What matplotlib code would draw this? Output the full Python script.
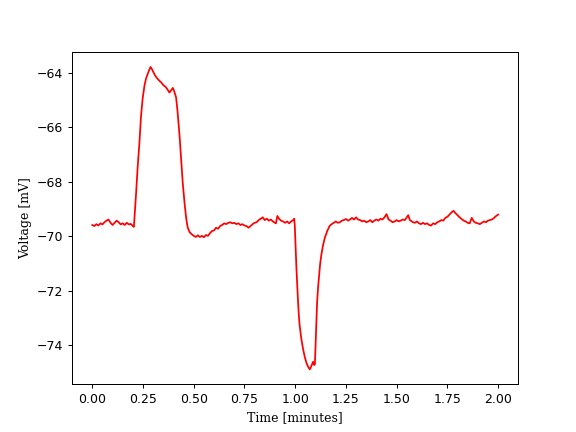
import numpy as np
import matplotlib.pyplot as plt

# membrane voltage trace (time in minutes, voltage in mV)
time_min = [
    0.00, 0.01, 0.02, 0.03, 0.04, 0.05, 0.06, 0.07, 0.08, 0.09,
    0.10, 0.11, 0.12, 0.13, 0.14, 0.15, 0.16, 0.17, 0.18, 0.19,
    0.200, 0.205, 0.210, 0.216, 0.224, 0.232, 0.240, 0.248, 0.257, 0.265,
    0.273, 0.280, 0.287, 0.293, 0.30, 0.31, 0.32, 0.33, 0.34, 0.35,
    0.36, 0.37, 0.38, 0.39, 0.397, 0.405, 0.413, 0.42, 0.43, 0.438,
    0.446, 0.455, 0.463, 0.47, 0.48, 0.49, 0.50, 0.51, 0.52, 0.53,
    0.54, 0.55, 0.56, 0.57, 0.58, 0.59, 0.60, 0.61, 0.62, 0.63,
    0.64, 0.65, 0.66, 0.67, 0.68, 0.69, 0.70, 0.71, 0.72, 0.73,
    0.74, 0.75, 0.76, 0.77, 0.78, 0.79, 0.80, 0.81, 0.82, 0.83,
    0.84, 0.85, 0.86, 0.87, 0.88, 0.89, 0.90, 0.905, 0.912, 0.92,
    0.93, 0.94, 0.95, 0.96, 0.97, 0.98, 0.99, 0.995, 0.998, 1.002,
    1.006, 1.010, 1.014, 1.018, 1.022, 1.030, 1.039, 1.047, 1.055, 1.063,
    1.072, 1.080, 1.088, 1.093, 1.097, 1.101, 1.105, 1.108, 1.113, 1.118,
    1.123, 1.129, 1.137, 1.146, 1.158, 1.17, 1.18, 1.19, 1.20, 1.21,
    1.22, 1.23, 1.24, 1.25, 1.26, 1.27, 1.28, 1.29, 1.30, 1.31,
    1.32, 1.33, 1.34, 1.35, 1.36, 1.37, 1.38, 1.39, 1.40, 1.41,
    1.42, 1.43, 1.44, 1.45, 1.46, 1.47, 1.48, 1.49, 1.50, 1.51,
    1.52, 1.53, 1.54, 1.55, 1.557, 1.565, 1.58, 1.59, 1.60, 1.61,
    1.62, 1.63, 1.64, 1.65, 1.66, 1.67, 1.68, 1.69, 1.70, 1.71,
    1.72, 1.73, 1.74, 1.75, 1.76, 1.77, 1.78, 1.79, 1.80, 1.81,
    1.82, 1.83, 1.84, 1.85, 1.86, 1.87, 1.88, 1.89, 1.90, 1.91,
    1.92, 1.93, 1.94, 1.95, 1.96, 1.97, 1.98, 1.99, 2.00,
]
voltage_mv = [
    -69.58, -69.62, -69.55, -69.60, -69.52, -69.56, -69.48, -69.42, -69.38, -69.50,
    -69.58, -69.50, -69.42, -69.48, -69.56, -69.52, -69.58, -69.50, -69.56, -69.54,
    -69.62, -69.65, -69.10, -68.40, -67.40, -66.60, -65.60, -64.95, -64.47, -64.20,
    -64.04, -63.90, -63.78, -63.85, -63.95, -64.10, -64.20, -64.28, -64.35, -64.45,
    -64.50, -64.60, -64.72, -64.62, -64.55, -64.70, -64.90, -65.40, -66.30, -67.20,
    -68.06, -68.80, -69.35, -69.67, -69.85, -69.92, -69.98, -70.02, -69.96, -70.02,
    -69.98, -70.03, -69.95, -69.98, -69.88, -69.80, -69.78, -69.68, -69.72, -69.62,
    -69.58, -69.52, -69.55, -69.50, -69.48, -69.52, -69.50, -69.55, -69.52, -69.58,
    -69.55, -69.60, -69.62, -69.68, -69.62, -69.55, -69.50, -69.48, -69.40, -69.35,
    -69.30, -69.40, -69.35, -69.42, -69.38, -69.45, -69.50, -69.52, -69.25, -69.35,
    -69.42, -69.45, -69.50, -69.45, -69.52, -69.45, -69.40, -69.35, -69.60, -70.40,
    -71.16, -71.80, -72.40, -72.90, -73.27, -73.75, -74.14, -74.42, -74.63, -74.78,
    -74.88, -74.75, -74.60, -74.72, -74.70, -73.89, -73.00, -72.40, -71.85, -71.41,
    -71.00, -70.67, -70.33, -70.05, -69.80, -69.61, -69.55, -69.50, -69.45, -69.50,
    -69.48, -69.42, -69.40, -69.36, -69.42, -69.38, -69.32, -69.38, -69.30, -69.38,
    -69.40, -69.45, -69.42, -69.48, -69.45, -69.40, -69.48, -69.42, -69.38, -69.42,
    -69.35, -69.38, -69.30, -69.18, -69.38, -69.42, -69.48, -69.45, -69.40, -69.45,
    -69.42, -69.38, -69.40, -69.30, -69.22, -69.40, -69.48, -69.50, -69.45, -69.52,
    -69.55, -69.50, -69.55, -69.52, -69.58, -69.60, -69.52, -69.55, -69.48, -69.45,
    -69.40, -69.42, -69.32, -69.28, -69.20, -69.12, -69.06, -69.15, -69.22, -69.30,
    -69.36, -69.42, -69.45, -69.50, -69.52, -69.32, -69.45, -69.50, -69.52, -69.55,
    -69.50, -69.45, -69.48, -69.42, -69.40, -69.38, -69.32, -69.25, -69.20,
]

fig, ax = plt.subplots(figsize=(6.4, 4.8), dpi=90)
ax.plot(time_min, voltage_mv, color='red', linewidth=1.4)
ax.set_xlabel('Time [minutes]', family='DejaVu Serif')
ax.set_ylabel('Voltage [mV]', family='DejaVu Serif')
ax.set_xticks(np.arange(0, 2.01, 0.25))
fig.savefig('out.png', dpi=90)
